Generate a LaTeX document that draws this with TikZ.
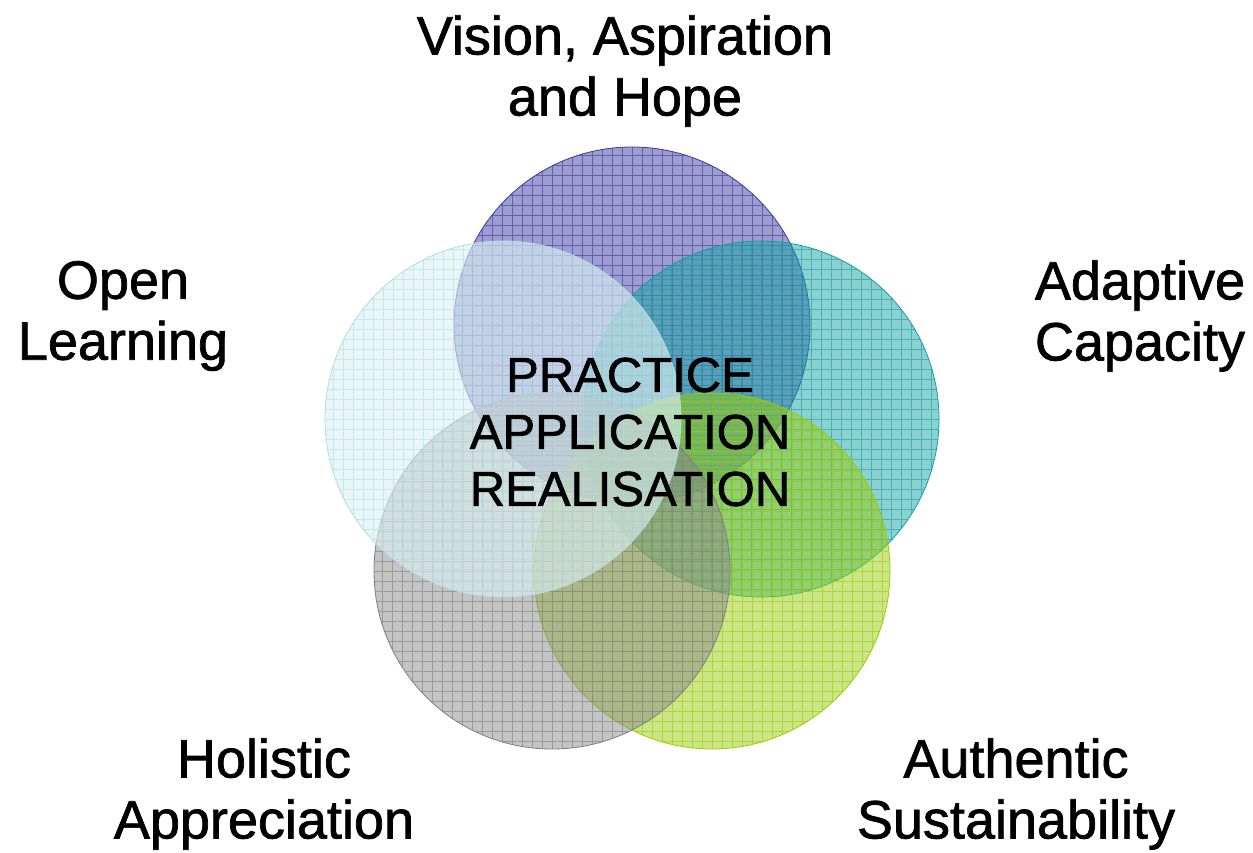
\documentclass[tikz,border=0pt]{standalone}
\usepackage{fontspec}
\setmainfont{Liberation Sans}
\newfontfamily\lblfont{Liberation Sans}[FakeBold=1.3]
\definecolor{cPurpleF}{HTML}{3B3BA3}
\definecolor{cPurpleL}{HTML}{3A3A9A}
\definecolor{cTealF}{HTML}{1AA3A3}
\definecolor{cTealL}{HTML}{10A0A0}
\definecolor{cGreenF}{HTML}{9ACD10}
\definecolor{cGreenL}{HTML}{99CC00}
\definecolor{cGrayF}{HTML}{8A8A8A}
\definecolor{cGrayL}{HTML}{7F7F7F}
\definecolor{cCyanF}{HTML}{DCF0F3}
\definecolor{cCyanL}{HTML}{B4DCE2}
\tikzset{
  disc/.style 2 args={circle, minimum size=356pt, inner sep=0pt,
    draw=#2, line width=0.8pt, fill=#1, fill opacity=0.5,
    path picture={\draw[#2, line width=0.7pt, draw opacity=0.6, step=10pt]
      (path picture bounding box.south west) grid (path picture bounding box.north east);}},
  topdisc/.style 2 args={disc={#1}{#2}, fill opacity=0.62},
  lbl/.style={align=center, text=black, inner sep=0pt,
    font=\lblfont\fontsize{54}{61}\selectfont},
  core/.style={align=center, text=black, inner sep=0pt,
    font=\lblfont\fontsize{49}{57}\selectfont}
}
\begin{document}
\begin{tikzpicture}[x=1pt, y=1pt]
\useasboundingbox (0,0) rectangle (1253,852);
\node[disc={cPurpleF}{cPurpleL}] (purple) at (632,527) {};
\node[disc={cTealF}{cTealL}] (teal) at (761,433) {};
\node[disc={cGreenF}{cGreenL}] (green) at (712,281) {};
\node[disc={cGrayF}{cGrayL}] (gray) at (552,281) {};
\node[topdisc={cCyanF}{cCyanL}] (cyan) at (503,433) {};

\node[core] (centre) at (630,420) {PRACTICE\\APPLICATION\\REALISATION};

\node[lbl] (vision) at (625,781) {Vision, Aspiration\\and Hope};
\node[lbl] (open) at (123,536) {Open\\Learning};
\node[lbl] (adaptive) at (1140,536) {Adaptive\\Capacity};
\node[lbl] (holistic) at (264,58) {Holistic\\Appreciation};
\node[lbl] (authentic) at (1016,58) {Authentic\\Sustainability};
\end{tikzpicture}
\end{document}
